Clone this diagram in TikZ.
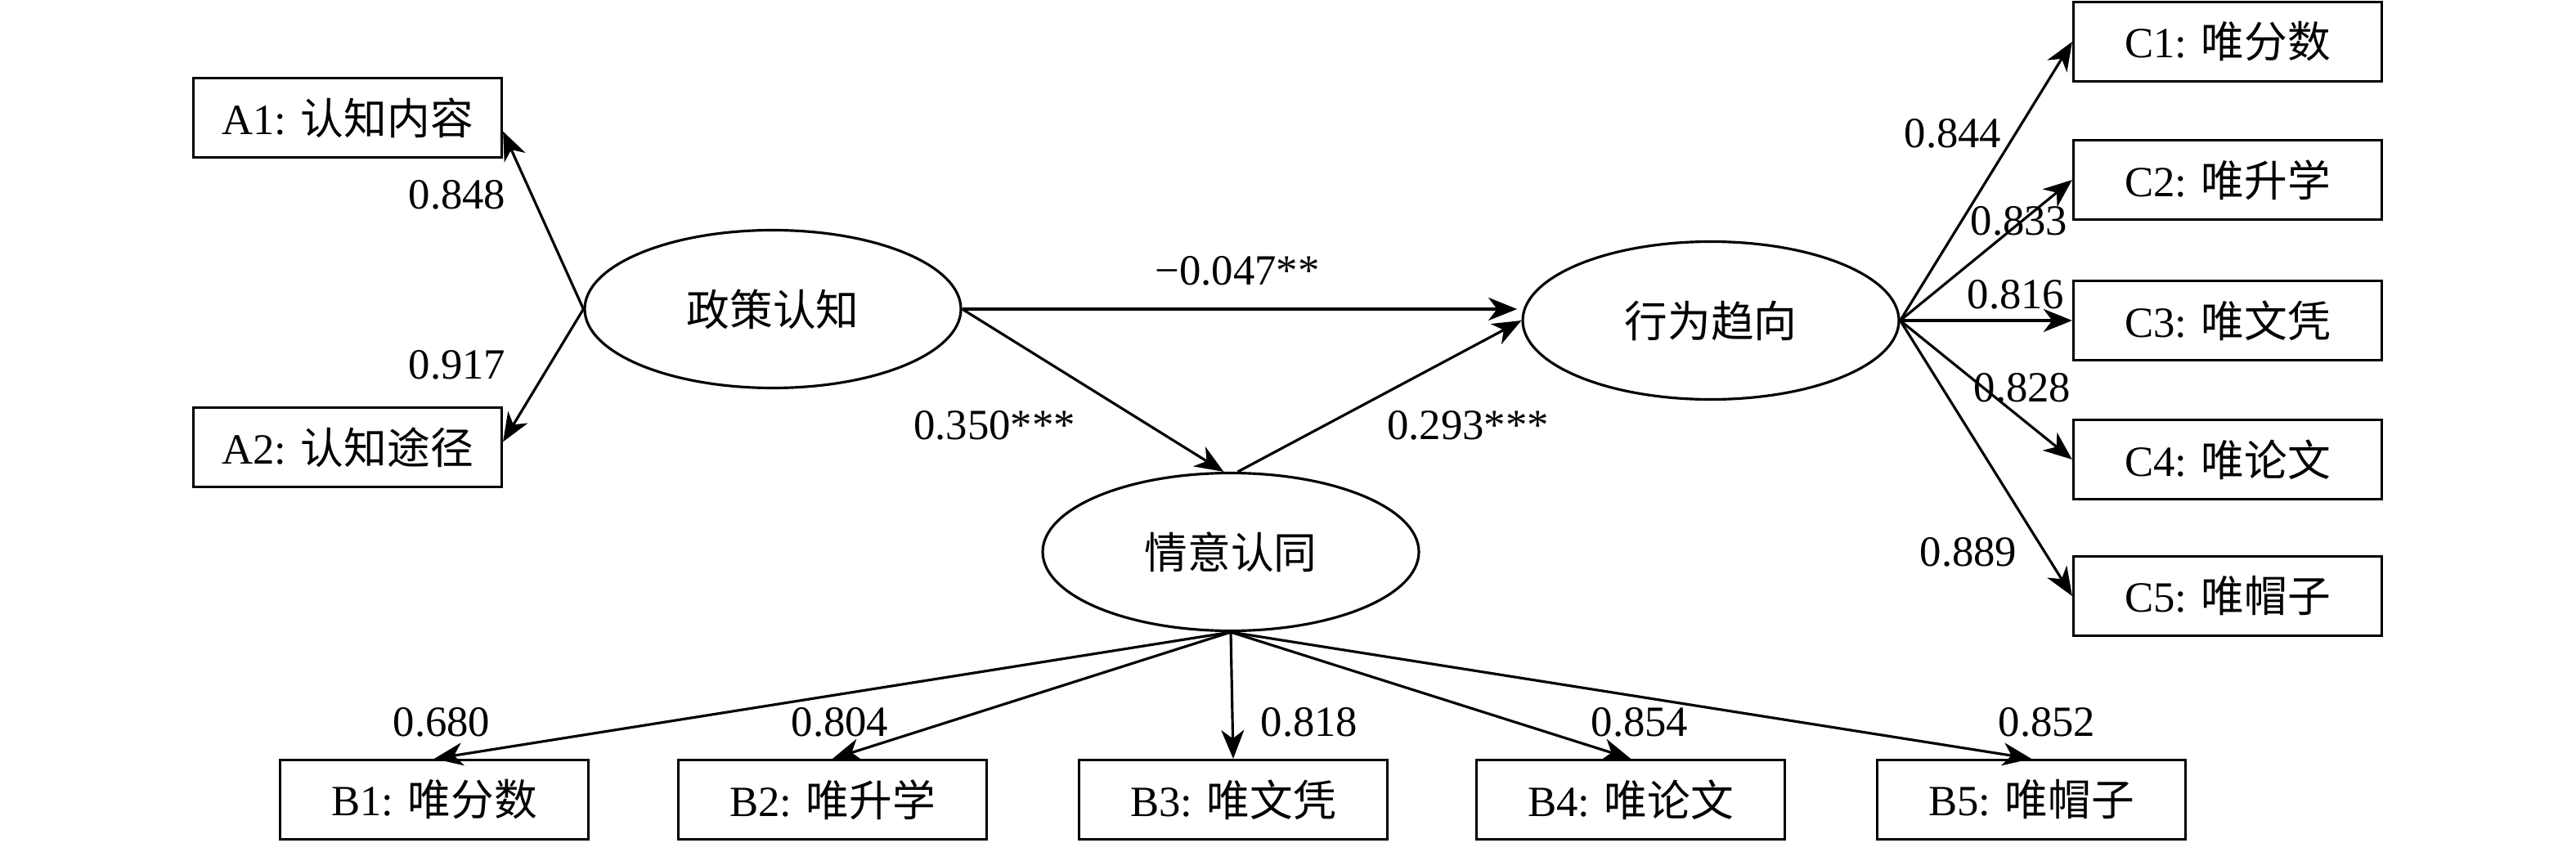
\documentclass[tikz,border=0pt]{standalone}
\usepackage{fontspec}
\setmainfont{Liberation Serif}
\newfontfamily\cjk{Noto Sans CJK SC}
\newcommand{\zh}[1]{{\cjk #1}}
\usetikzlibrary{shapes.geometric,arrows.meta}

\begin{document}
\begin{tikzpicture}[
    every node/.style={font=\fontsize{15}{18}\selectfont},
    obsbox/.style={draw, line width=0.9pt, minimum width=3.77cm, minimum height=0.97cm, inner sep=0pt},
    latent/.style={draw, ellipse, line width=0.9pt, minimum width=4.6cm, minimum height=1.93cm, inner sep=0pt},
    path/.style={-{Stealth[length=10pt,width=8pt,inset=3pt]}, line width=0.9pt},
    coef/.style={inner sep=0pt}
  ]
  \useasboundingbox (0,0) rectangle (31.5,10.3);
  % latent variables
  \node[latent] (zc) at (9.45,6.52) {\zh{政策认知}};
  \node[latent] (xw) at (20.92,6.38) {\zh{行为趋向}};
  \node[latent] (qy) at (15.05,3.55) {\zh{情意认同}};
  % indicators
  \node[obsbox] (a1) at (4.25,8.86) {A1: \zh{认知内容}};
  \node[obsbox] (a2) at (4.25,4.83) {A2: \zh{认知途径}};
  \node[obsbox] (c1) at (27.24,9.79) {C1: \zh{唯分数}};
  \node[obsbox] (c2) at (27.24,8.10) {C2: \zh{唯升学}};
  \node[obsbox] (c3) at (27.24,6.38) {C3: \zh{唯文凭}};
  \node[obsbox] (c4) at (27.24,4.68) {C4: \zh{唯论文}};
  \node[obsbox] (c5) at (27.24,3.01) {C5: \zh{唯帽子}};
  \node[obsbox] (b1) at (5.31,0.52) {B1: \zh{唯分数}};
  \node[obsbox] (b2) at (10.18,0.52) {B2: \zh{唯升学}};
  \node[obsbox] (b3) at (15.08,0.52) {B3: \zh{唯文凭}};
  \node[obsbox] (b4) at (19.94,0.52) {B4: \zh{唯论文}};
  \node[obsbox] (b5) at (24.84,0.52) {B5: \zh{唯帽子}};
  % paths
  \draw[path] (zc.west) -- (a1.-5);
  \draw[path] (zc.west) -- (a2.2);
  \draw[path, shorten >=1.5pt] (zc.east) -- (zc.east -| xw.west);
  \draw[path] (zc.east) -- (qy.95);
  \draw[path] (qy.85) -- (xw.west);
  \draw[path] (xw.east) -- (c1.west);
  \draw[path] (xw.east) -- (c2.west);
  \draw[path] (xw.east) -- (c3.west);
  \draw[path] (xw.east) -- (c4.west);
  \draw[path] (xw.east) -- (c5.west);
  \draw[path] (qy.south) -- (b1.north);
  \draw[path] (qy.south) -- (b2.north);
  \draw[path] (qy.south) -- (b3.north);
  \draw[path] (qy.south) -- (b4.north);
  \draw[path] (qy.south) -- (b5.north);
  % coefficients
  \node[coef] (ka1) at (5.59,7.92) {0.848};
  \node[coef] (ka2) at (5.59,5.84) {0.917};
  \node[coef] (kzx) at (15.13,6.99) {−0.047**};
  \node[coef] (kzq) at (12.16,5.10) {0.350***};
  \node[coef] (kqx) at (17.95,5.10) {0.293***};
  \node[coef] (kc1) at (23.88,8.67) {0.844};
  \node[coef] (kc2) at (24.69,7.60) {0.833};
  \node[coef] (kc3) at (24.65,6.70) {0.816};
  \node[coef] (kc4) at (24.73,5.56) {0.828};
  \node[coef] (kc5) at (24.07,3.55) {0.889};
  \node[coef] (kb1) at (5.40,1.47) {0.680};
  \node[coef] (kb2) at (10.27,1.47) {0.804};
  \node[coef] (kb3) at (16.01,1.47) {0.818};
  \node[coef] (kb4) at (20.05,1.47) {0.854};
  \node[coef] (kb5) at (25.03,1.47) {0.852};
\end{tikzpicture}
\end{document}
